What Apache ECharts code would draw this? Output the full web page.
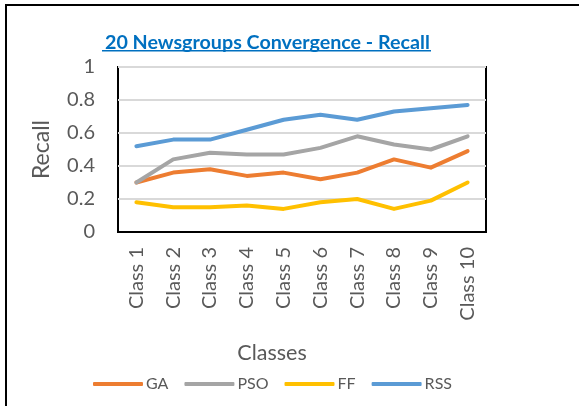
<!DOCTYPE html>
<html>
<head>
<meta charset="utf-8">
<script src="https://cdn.jsdelivr.net/npm/echarts@6/dist/echarts.min.js"></script>
<style>
  html, body { margin: 0; padding: 0; background: #fff; }
  /* outer frame, only left and top edges visible in the crop */
  .frame {
    position: absolute; left: 5px; top: 4px;
    width: 600px; height: 440px;
    border: 2px solid #000;
  }
  #chart { position: absolute; left: 0; top: 0; width: 579px; height: 406px; }
</style>
</head>
<body>
<div class="frame"></div>
<div id="chart"></div>
<script>
// Recall per class
const classes = ['Class 1', 'Class 2', 'Class 3', 'Class 4', 'Class 5',
                 'Class 6', 'Class 7', 'Class 8', 'Class 9', 'Class 10'];
const gaValues  = [0.30, 0.36, 0.38, 0.34, 0.36, 0.32, 0.36, 0.44, 0.39, 0.49];
const psoValues = [0.30, 0.44, 0.48, 0.47, 0.47, 0.51, 0.58, 0.53, 0.50, 0.58];
const ffValues  = [0.18, 0.15, 0.15, 0.16, 0.14, 0.18, 0.20, 0.14, 0.19, 0.30];
const rssValues = [0.52, 0.56, 0.56, 0.62, 0.68, 0.71, 0.68, 0.73, 0.75, 0.77];
const yTicks = [0, 0.2, 0.4, 0.6, 0.8, 1];

const FONT = 'Lato, "Open Sans", sans-serif';
const GREY = '#595959';

const chart = echarts.init(document.getElementById('chart'));

function line(name, data, color) {
  return {
    name: name,
    type: 'line',
    data: data,
    symbol: 'none',
    lineStyle: { color: color, width: 4, cap: 'round', join: 'round' },
    itemStyle: { color: color },
    z: 3
  };
}

chart.setOption({
  animation: false,
  title: {
    text: '20 Newsgroups Convergence - Recall',
    left: 100,
    top: 28,
    textStyle: { color: '#0070C0', fontSize: 19.7, fontWeight: 'bold', fontFamily: FONT }
  },
  // underline under the title
  graphic: [{
    type: 'rect',
    shape: { x: 102, y: 50, width: 329, height: 1.5 },
    style: { fill: '#0070C0' }
  }],
  grid: {
    left: 118, right: 93, top: 67, bottom: 174,
    show: true, borderColor: '#000', borderWidth: 2
  },
  legend: {
    bottom: 9,
    left: 88,
    itemWidth: 50,
    itemHeight: 4,
    itemGap: 16,
    icon: 'roundRect',
    textStyle: { color: GREY, fontSize: 16, fontFamily: FONT, padding: [0, 0, 0, -2] }
  },
  xAxis: {
    type: 'category',
    data: classes,
    boundaryGap: true,
    name: 'Classes',
    nameLocation: 'middle',
    nameGap: 110,
    nameTextStyle: { color: GREY, fontSize: 21.5, fontFamily: FONT, padding: [0, 60, 0, 0] },
    axisLine: { lineStyle: { color: '#000', width: 2 } },
    axisTick: { show: false },
    axisLabel: { rotate: 90, color: GREY, fontSize: 20, fontFamily: FONT, margin: 15, interval: 0 }
  },
  yAxis: {
    type: 'value',
    min: yTicks[0],
    max: yTicks[yTicks.length - 1],
    interval: 0.2,
    name: 'Recall',
    nameLocation: 'middle',
    nameGap: 65,
    nameTextStyle: { color: GREY, fontSize: 23, fontFamily: FONT },
    axisLine: { show: false },
    axisTick: { show: false },
    axisLabel: { color: GREY, fontSize: 20, fontFamily: FONT, margin: 23 },
    splitLine: { lineStyle: { color: '#D9D9D9', width: 2 } }
  },
  series: [
    line('GA', gaValues, '#ED7D31'),
    line('PSO', psoValues, '#A5A5A5'),
    line('FF', ffValues, '#FFC000'),
    line('RSS', rssValues, '#5B9BD5')
  ]
});
</script>
</body>
</html>
